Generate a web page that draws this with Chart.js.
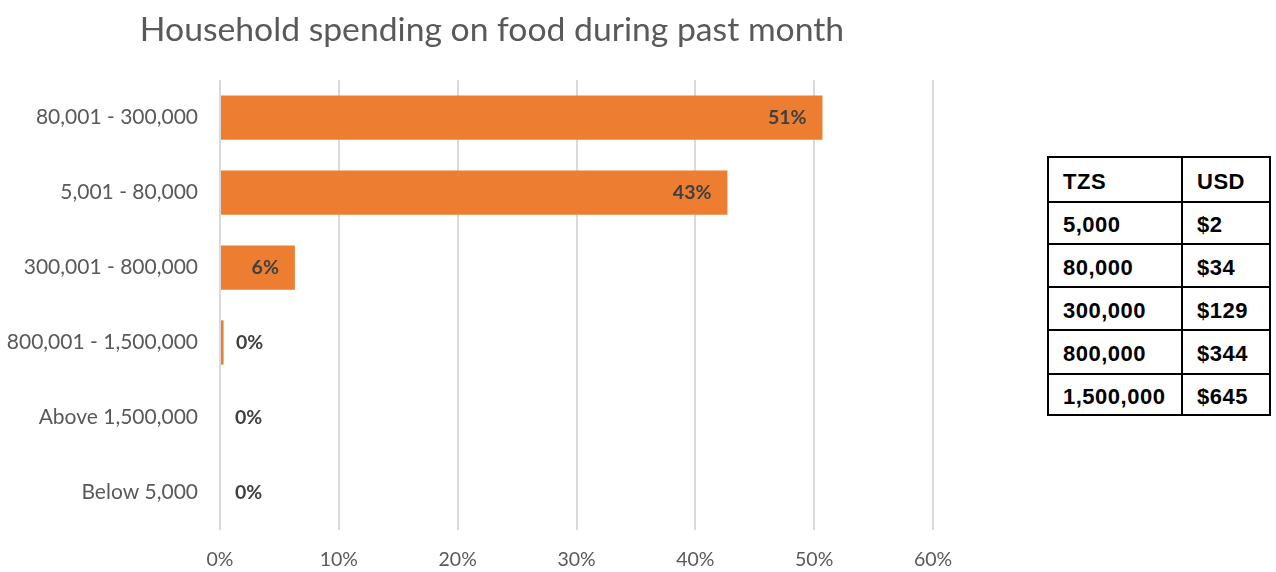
<!DOCTYPE html>
<html>
<head>
<meta charset="utf-8">
<script src="https://cdn.jsdelivr.net/npm/chart.js@4"></script>
<style>
  body { margin: 0; background: #fff; width: 1276px; height: 572px; position: relative; overflow: hidden; }
  #caja { position: absolute; left: 0; top: 0; width: 985px; height: 572px; }
  #titulo { position: absolute; left: 0; top: 8px; width: 984px; text-align: center;
            font-family: Lato, sans-serif; font-size: 33.7px; line-height: 40.4px; color: #595959; }
  #tabla { position: absolute; left: 1047px; top: 156px; border-collapse: collapse;
           font-family: "Liberation Sans", Arial, sans-serif; font-weight: bold; font-size: 22px;
           letter-spacing: 0.5px; color: #000; }
  #tabla td { border: 2px solid #000; padding: 4px 0 0 14px; vertical-align: middle; box-sizing: border-box; }
  #tabla td.c1 { width: 134px; }
  #tabla td.c2 { width: 88px; }
</style>
</head>
<body>
<div id="caja"><canvas id="estadistica"></canvas></div>
<div id="titulo">Household spending on food during past month</div>
<table id="tabla"></table>
<script>
// rangos de gasto (TZS) y porcentaje de hogares
const categorias = ['80,001 - 300,000', '5,001 - 80,000', '300,001 - 800,000', '800,001 - 1,500,000', 'Above 1,500,000', 'Below 5,000'];
const porcentajes = [50.7, 42.7, 6.3, 0.3, 0, 0];
const ticksX = ['0%', '10%', '20%', '30%', '40%', '50%', '60%'];

// tabla de conversion
const tzs = ['TZS', '5,000', '80,000', '300,000', '800,000', '1,500,000'];
const usd = ['USD', '$2', '$34', '$129', '$344', '$645'];
const altos = [45, 42, 43, 43, 44, 41];

const tabla = document.querySelector('#tabla');
tzs.forEach((t, i) => {
    tabla.innerHTML += `<tr style="height:${altos[i]}px"><td class="c1">${t}</td><td class="c2">${usd[i]}</td></tr>`;
});

// etiquetas de valor: dentro al final de la barra o fuera si no cabe
const etiquetas = {
    id: 'etiquetas',
    afterDatasetsDraw(chart) {
        const ctx = chart.ctx;
        const meta = chart.getDatasetMeta(0);
        ctx.save();
        ctx.font = 'bold 19.5px Lato';
        ctx.fillStyle = '#404040';
        ctx.textBaseline = 'middle';
        meta.data.forEach((barra, i) => {
            const texto = Math.round(porcentajes[i]) + '%';
            const ancho = ctx.measureText(texto).width;
            const largo = barra.x - barra.base;
            if (largo > ancho + 30) {
                ctx.textAlign = 'right';
                ctx.fillText(texto, barra.x - 16, barra.y);
            } else {
                ctx.textAlign = 'left';
                ctx.fillText(texto, barra.base + 15, barra.y);
            }
        });
        ctx.restore();
    }
};

const ctx = document.getElementById('estadistica');
let grafico = new Chart(ctx, {
    type: 'bar',
    data: {
        labels: categorias,
        datasets: [{
            data: porcentajes,
            backgroundColor: '#ED7D31',
            barPercentage: 0.59,
            categoryPercentage: 1
        }]
    },
    options: {
        indexAxis: 'y',
        responsive: true,
        maintainAspectRatio: false,
        animation: false,
        layout: { padding: { left: 0, right: 52, top: 80, bottom: 0 } },
        plugins: {
            legend: { display: false },
            tooltip: { enabled: false },
            title: { display: false }
        },
        scales: {
            x: {
                min: 0,
                max: 60,
                afterFit: (eje) => { eje.height = 42; },
                ticks: {
                    stepSize: 10,
                    color: '#595959',
                    font: { family: 'Lato', size: 19.5 },
                    padding: 18,
                    callback: (v, i) => ticksX[i]
                },
                grid: { color: '#d9d9d9', lineWidth: 2, drawTicks: false },
                border: { display: false }
            },
            y: {
                afterFit: (eje) => { eje.width = 220; },
                ticks: {
                    color: '#595959',
                    font: { family: 'Lato', size: 21 },
                    padding: 22
                },
                grid: { display: false, drawTicks: false },
                border: { display: false }
            }
        }
    },
    plugins: [etiquetas]
});
</script>
</body>
</html>
